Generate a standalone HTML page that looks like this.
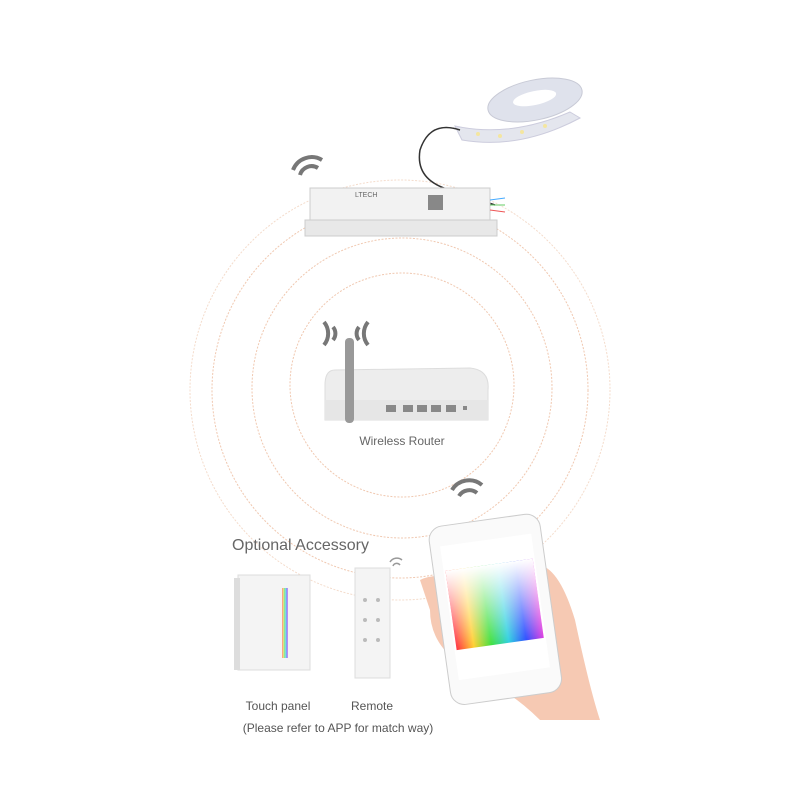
<!DOCTYPE html>
<html><head><style>
html,body{margin:0;padding:0;background:#fff;}
body{width:800px;height:800px;overflow:hidden;font-family:"Liberation Sans",sans-serif;}
</style></head><body>
<svg width="800" height="800" viewBox="0 0 800 800" xmlns="http://www.w3.org/2000/svg">
<defs>
<linearGradient id="rb" x1="0" y1="0" x2="1" y2="0">
<stop offset="0" stop-color="#ff3040"/><stop offset="0.2" stop-color="#ffd030"/><stop offset="0.4" stop-color="#40e040"/><stop offset="0.6" stop-color="#30d0e0"/><stop offset="0.8" stop-color="#3050ff"/><stop offset="1" stop-color="#e040e0"/>
</linearGradient>
<linearGradient id="wh" x1="0" y1="0" x2="0" y2="1">
<stop offset="0" stop-color="#fff" stop-opacity="1"/><stop offset="1" stop-color="#fff" stop-opacity="0"/>
</linearGradient>
</defs>
<g fill="none" stroke="#f0c8b0" stroke-width="1" stroke-dasharray="2 1.5">
<circle cx="400" cy="390" r="210" stroke="#f4dccc"/>
<circle cx="400" cy="390" r="188"/>
<circle cx="402" cy="388" r="150"/>
<circle cx="402" cy="385" r="112"/>
</g>
<!-- LED strip -->
<g transform="rotate(-12 535 100)">
<ellipse cx="535" cy="100" rx="48" ry="20" fill="#dfe2ec" stroke="#c8cad6"/>
<ellipse cx="535" cy="98" rx="22" ry="7" fill="#fff"/>
</g>
<path d="M455 126 Q510 138 570 112 L580 118 Q520 150 462 140Z" fill="#e4e6ee" stroke="#ccd"/>
<g fill="#f4e6a0"><circle cx="478" cy="134" r="2"/><circle cx="500" cy="136" r="2"/><circle cx="522" cy="132" r="2"/><circle cx="545" cy="126" r="2"/></g>
<path d="M460 130 Q430 120 420 150 Q415 180 450 190 Q480 200 495 205" fill="none" stroke="#333" stroke-width="1.5"/>
<!-- controller -->
<rect x="310" y="188" width="180" height="40" fill="#f2f2f2" stroke="#ccc"/>
<rect x="305" y="220" width="192" height="16" fill="#e8e8e8" stroke="#ccc"/>
<text x="355" y="197" font-size="7" fill="#666">LTECH</text>
<rect x="428" y="195" width="15" height="15" fill="#888"/>
<g stroke-width="1"><path d="M490 200 L505 198" stroke="#4af"/><path d="M490 205 L505 205" stroke="#6c6"/><path d="M490 210 L505 212" stroke="#e55"/></g>
<!-- wifi icons -->
<g fill="none" stroke="#777" stroke-width="4">
<path d="M293 170 A20 20 0 0 1 322 160"/><path d="M300 175 A12 12 0 0 1 318 168"/>
<path d="M452 490 A20 20 0 0 1 482 485"/><path d="M459 496 A12 12 0 0 1 477 493"/>
<path d="M324 345 A18 18 0 0 0 324 322" /><path d="M368 345 A18 18 0 0 1 368 322"/>
<path d="M333 340 A10 10 0 0 0 333 327"/><path d="M359 340 A10 10 0 0 1 359 327"/>
</g>
<g fill="none" stroke="#999" stroke-width="1.5"><path d="M390 562 A8 8 0 0 1 402 560"/><path d="M393 566 A4 4 0 0 1 400 565"/></g>
<!-- router -->
<path d="M335 370 L470 368 Q490 370 488 390 L488 420 L325 420 L325 385 Q325 370 335 370Z" fill="#ededed" stroke="#ddd"/>
<rect x="325" y="400" width="163" height="20" fill="#e6e6e6"/>
<g fill="#888"><rect x="386" y="405" width="10" height="7"/><rect x="403" y="405" width="10" height="7"/><rect x="417" y="405" width="10" height="7"/><rect x="431" y="405" width="10" height="7"/><rect x="446" y="405" width="10" height="7"/><rect x="463" y="406" width="4" height="4"/></g>
<rect x="345" y="338" width="9" height="85" rx="4" fill="#999"/>
<text x="402" y="445" font-size="12" fill="#666" text-anchor="middle">Wireless Router</text>
<!-- accessories -->
<text x="232" y="550" font-size="16" fill="#666">Optional Accessory</text>
<rect x="238" y="575" width="72" height="95" fill="#f4f4f4" stroke="#ddd"/>
<rect x="234" y="578" width="6" height="92" fill="#ddd"/>
<rect x="282" y="588" width="6" height="70" fill="url(#rb)" opacity="0.6"/>
<rect x="355" y="568" width="35" height="110" fill="#f4f4f4" stroke="#ddd"/>
<g fill="#bbb"><circle cx="365" cy="600" r="2"/><circle cx="378" cy="600" r="2"/><circle cx="365" cy="620" r="2"/><circle cx="378" cy="620" r="2"/><circle cx="365" cy="640" r="2"/><circle cx="378" cy="640" r="2"/></g>
<text x="278" y="710" font-size="12" fill="#555" text-anchor="middle">Touch panel</text>
<text x="372" y="710" font-size="12" fill="#555" text-anchor="middle">Remote</text>
<text x="338" y="732" font-size="12" fill="#555" text-anchor="middle">(Please refer to APP for match way)</text>
<!-- hand & phone -->
<path d="M420 580 Q440 570 470 585 L540 565 Q560 570 575 620 Q590 690 600 720 L540 720 Q510 690 480 680 L455 660 Q430 640 430 610Z" fill="#f6c9b3"/>
<g transform="rotate(-8 490 600)">
<rect x="438" y="520" width="112" height="180" rx="14" fill="#fafafa" stroke="#ccc"/>
<rect x="448" y="540" width="92" height="135" fill="#fff"/>
<rect x="450" y="565" width="88" height="80" fill="url(#rb)"/>
<rect x="450" y="565" width="88" height="80" fill="url(#wh)"/>
</g>
</svg>
</body></html>
